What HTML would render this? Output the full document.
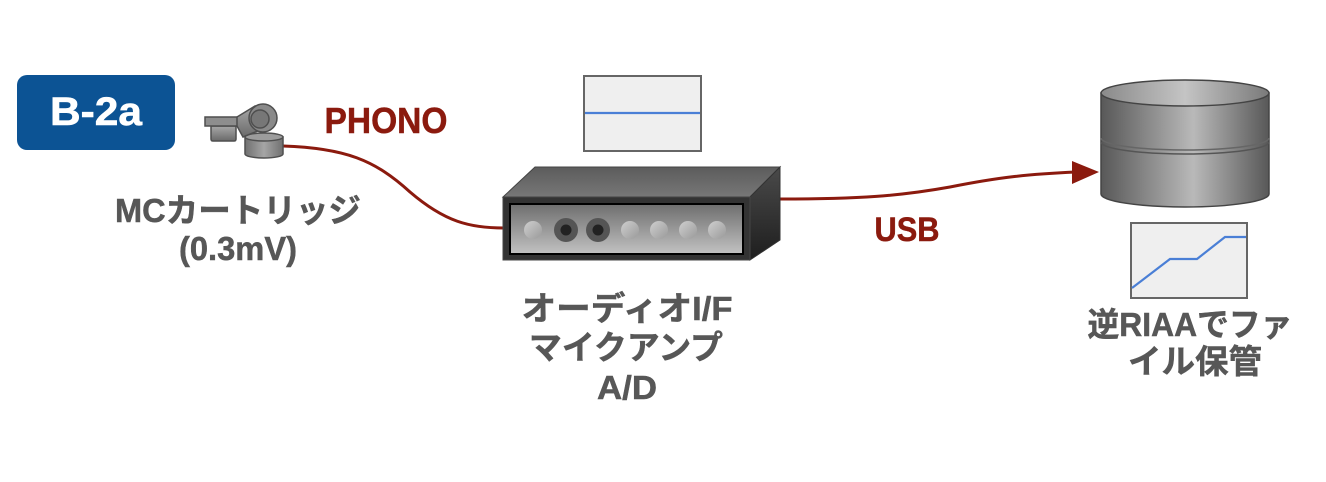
<!DOCTYPE html>
<html><head><meta charset="utf-8"><style>
html,body{margin:0;padding:0;background:#fff;}
svg{display:block;}
text{font-family:"Liberation Sans","Noto Sans CJK JP",sans-serif;font-weight:700;}
.g{fill:#575757;stroke:#575757;stroke-width:0.5;}
.r{fill:#8b1a0e;stroke:#8b1a0e;stroke-width:0.5;}
</style></head><body>
<svg width="1326" height="482" viewBox="0 0 1326 482" xmlns="http://www.w3.org/2000/svg">
<defs>
<linearGradient id="gbody" x1="0" x2="1" y1="0" y2="0">
<stop offset="0" stop-color="#585858"/><stop offset="0.55" stop-color="#b9b9b9"/><stop offset="1" stop-color="#585858"/>
</linearGradient>
<linearGradient id="gtop" x1="0" x2="1" y1="0" y2="0">
<stop offset="0" stop-color="#8a8a8a"/><stop offset="0.5" stop-color="#c4c4c4"/><stop offset="1" stop-color="#7a7a7a"/>
</linearGradient>
<linearGradient id="gdtop" x1="0" x2="0" y1="0" y2="1">
<stop offset="0" stop-color="#5c5c5c"/><stop offset="1" stop-color="#777"/>
</linearGradient>
<linearGradient id="gdside" x1="0" x2="0" y1="0" y2="1">
<stop offset="0" stop-color="#4a4a4a"/><stop offset="1" stop-color="#1e1e1e"/>
</linearGradient>
<linearGradient id="gpanel" x1="0" x2="0" y1="0" y2="1">
<stop offset="0" stop-color="#6e6e6e"/><stop offset="1" stop-color="#c2c2c2"/>
</linearGradient>
<linearGradient id="gknob" x1="0" x2="1" y1="0" y2="1">
<stop offset="0" stop-color="#cfcfcf"/><stop offset="1" stop-color="#9a9a9a"/>
</linearGradient>
<linearGradient id="gcart" x1="0" x2="0" y1="0" y2="1">
<stop offset="0" stop-color="#a8a8a8"/><stop offset="1" stop-color="#6a6a6a"/>
</linearGradient>
<linearGradient id="gcart2" x1="0" x2="1" y1="0" y2="0">
<stop offset="0" stop-color="#707070"/><stop offset="0.5" stop-color="#a5a5a5"/><stop offset="1" stop-color="#707070"/>
</linearGradient>
</defs>

<!-- B-2a badge -->
<rect x="17" y="75" width="158" height="75" rx="10" fill="#0c5394"/>
<text x="96" y="125" font-size="40" fill="#fff" stroke="#fff" stroke-width="0.6" text-anchor="middle" textLength="92" lengthAdjust="spacingAndGlyphs">B-2a</text>

<!-- cables -->
<path d="M283,146 C345,148 375,160 410,192 C445,222 470,228 504,228" fill="none" stroke="#8b1a0e" stroke-width="3"/>
<path d="M780,199 C860,199 900,196 950,187 C1000,177 1030,174 1076,172" fill="none" stroke="#8b1a0e" stroke-width="3"/>
<polygon points="1072,161 1099,172 1072,184" fill="#8b1a0e"/>

<!-- cartridge -->
<g stroke="#4f4f4f" stroke-width="1.5">
<path d="M245,137 L245,154 A19,4 0 0 0 283,154 L283,137 Z" fill="url(#gcart2)"/>
<ellipse cx="264" cy="137" rx="19" ry="4" fill="#9c9c9c"/>
<path d="M211,126 L236,126 L236,139 Q236,141 234,141 L213,141 Q211,141 211,139 Z" fill="url(#gcart)"/>
<rect x="205" y="117" width="37" height="9" fill="#8e8e8e"/>
<path d="M237,117 L255,106 L270,126 L243,137 L237,126 Z" fill="url(#gcart)"/>
<circle cx="263" cy="118" r="14" fill="#8a8a8a"/>
<circle cx="260" cy="119" r="9" fill="#777"/>
</g>

<!-- PHONO -->
<text class="r" x="386" y="133" font-size="36" text-anchor="middle" textLength="123" lengthAdjust="spacingAndGlyphs">PHONO</text>

<!-- MC cartridge label -->
<text class="g" x="238" y="222" font-size="33" text-anchor="middle" textLength="246" lengthAdjust="spacingAndGlyphs">MCカートリッジ</text>
<text class="g" x="238" y="260" font-size="33" text-anchor="middle" textLength="118" lengthAdjust="spacingAndGlyphs">(0.3mV)</text>

<!-- flat waveform box -->
<rect x="584" y="76" width="117" height="75" fill="#efefef" stroke="#666" stroke-width="2"/>
<line x1="585" y1="113" x2="700" y2="113" stroke="#4a7fd6" stroke-width="2.2"/>

<!-- device -->
<polygon points="503,197 535,167 780,167 750,197" fill="url(#gdtop)" stroke="#444" stroke-width="1"/>
<polygon points="750,197 780,167 780,240 750,260" fill="url(#gdside)" stroke="#333" stroke-width="1"/>
<rect x="503" y="197" width="247" height="63" fill="#333" stroke="#444" stroke-width="1"/>
<rect x="510" y="204" width="233" height="50" fill="url(#gpanel)" stroke="#000" stroke-width="2"/>
<g>
<circle cx="533" cy="230" r="9" fill="url(#gknob)"/>
<circle cx="566" cy="230" r="12" fill="#555"/><circle cx="566" cy="230" r="5.5" fill="#222"/>
<circle cx="598" cy="230" r="12" fill="#555"/><circle cx="598" cy="230" r="5.5" fill="#222"/>
<circle cx="630" cy="230" r="9" fill="url(#gknob)"/>
<circle cx="659" cy="230" r="9" fill="url(#gknob)"/>
<circle cx="688" cy="230" r="9" fill="url(#gknob)"/>
<circle cx="717" cy="230" r="9" fill="url(#gknob)"/>
</g>

<!-- USB -->
<text class="r" x="907" y="241" font-size="34" text-anchor="middle" textLength="65" lengthAdjust="spacingAndGlyphs">USB</text>

<!-- device label -->
<text class="g" x="627" y="320" font-size="33" text-anchor="middle" textLength="211" lengthAdjust="spacingAndGlyphs">オーディオI/F</text>
<text class="g" x="626" y="359" font-size="33" text-anchor="middle" textLength="194" lengthAdjust="spacingAndGlyphs">マイクアンプ</text>
<text class="g" x="627" y="399" font-size="33" text-anchor="middle" textLength="60" lengthAdjust="spacingAndGlyphs">A/D</text>

<!-- database cylinder -->
<g stroke="#444" stroke-width="1.5">
<path d="M1101,93 L1101,194 A84,13 0 0 0 1269,194 L1269,93 Z" fill="url(#gbody)"/>
<ellipse cx="1185" cy="93" rx="84" ry="13" fill="url(#gtop)"/>
<path d="M1101,138 A84,12 0 0 0 1269,138" fill="none" stroke="#666"/>
<path d="M1101,142 A84,12 0 0 0 1269,142" fill="none" stroke="#555"/>
</g>

<!-- RIAA box -->
<rect x="1131" y="223" width="116" height="75" fill="#efefef" stroke="#666" stroke-width="2"/>
<polyline points="1132,288 1170,259 1197,259 1225,237 1246,237" fill="none" stroke="#4a7fd6" stroke-width="2.2"/>

<!-- right label -->
<text class="g" x="1190" y="336" font-size="33" text-anchor="middle" textLength="205" lengthAdjust="spacingAndGlyphs">逆RIAAでファ</text>
<text class="g" x="1195" y="373" font-size="33" text-anchor="middle" textLength="134" lengthAdjust="spacingAndGlyphs">イル保管</text>
</svg>
</body></html>
